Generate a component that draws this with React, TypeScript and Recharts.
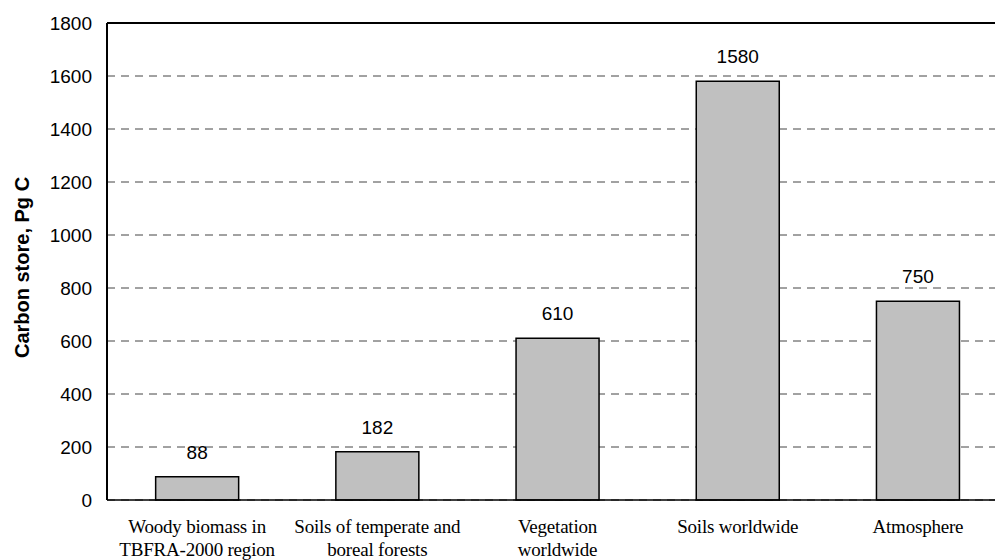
import { BarChart, Bar, XAxis, YAxis, CartesianGrid, ReferenceLine, LabelList } from 'recharts';

const CATEGORIES = [
  ['Woody biomass in', 'TBFRA-2000 region'],
  ['Soils of temperate and', 'boreal forests'],
  ['Vegetation', 'worldwide'],
  ['Soils worldwide'],
  ['Atmosphere'],
];
const CARBON = [88, 182, 610, 1580, 750];
const Y_TICKS = [0, 200, 400, 600, 800, 1000, 1200, 1400, 1600, 1800];

const data = CATEGORIES.map((lines, i) => ({ name: lines.join(' '), lines, value: CARBON[i] }));

const SANS = 'Arial, "Liberation Sans", sans-serif';

function CategoryTick(props: any) {
  const { x, y, payload } = props;
  const lines = data[payload.index]?.lines ?? [payload.value];
  return (
    <g transform={`translate(${x},${y})`}>
      {lines.map((l: string, i: number) => (
        <text
          key={i}
          x={0}
          y={25 + i * 23}
          textAnchor="middle"
          fill="#000"
          style={{ fontFamily: '"Liberation Serif", "DejaVu Serif", serif', fontSize: 19, letterSpacing: -0.2 }}
        >
          {l}
        </text>
      ))}
    </g>
  );
}

export default function App() {
  return (
    <div style={{ position: 'absolute', left: 0, top: 0, width: 995, height: 560, overflow: 'hidden', background: '#fff' }}>
      <BarChart
        width={1008}
        height={560}
        data={data}
        margin={{ top: 23, right: 0, left: 0, bottom: 0 }}
        barCategoryGap="27%"
      >
        <CartesianGrid vertical={false} stroke="#444" strokeDasharray="8 6" strokeWidth={1} />
        <XAxis
          dataKey="name"
          height={60}
          interval={0}
          tickLine={false}
          axisLine={{ stroke: '#000', strokeWidth: 1.5 }}
          tick={<CategoryTick />}
        />
        <YAxis
          width={107}
          domain={[0, 1800]}
          ticks={Y_TICKS}
          interval={0}
          tickLine={false}
          tickSize={8}
          tickMargin={7}
          axisLine={{ stroke: '#000', strokeWidth: 2 }}
          tick={{ fill: '#000', fontSize: 19, fontFamily: SANS }}
          label={{
            value: 'Carbon store, Pg C',
            angle: -90,
            position: 'insideLeft',
            dx: 17,
            dy: 6,
            style: { textAnchor: 'middle', fontFamily: SANS, fontSize: 20, fontWeight: 'bold', fill: '#000' },
          }}
        />
        <ReferenceLine y={1800} stroke="#000" strokeWidth={2} />
        <Bar dataKey="value" fill="#c0c0c0" stroke="#000" strokeWidth={1.5} isAnimationActive={false}>
          <LabelList
            dataKey="value"
            position="top"
            offset={18}
            style={{ fill: '#000', fontSize: 19, fontFamily: SANS }}
          />
        </Bar>
      </BarChart>
    </div>
  );
}
